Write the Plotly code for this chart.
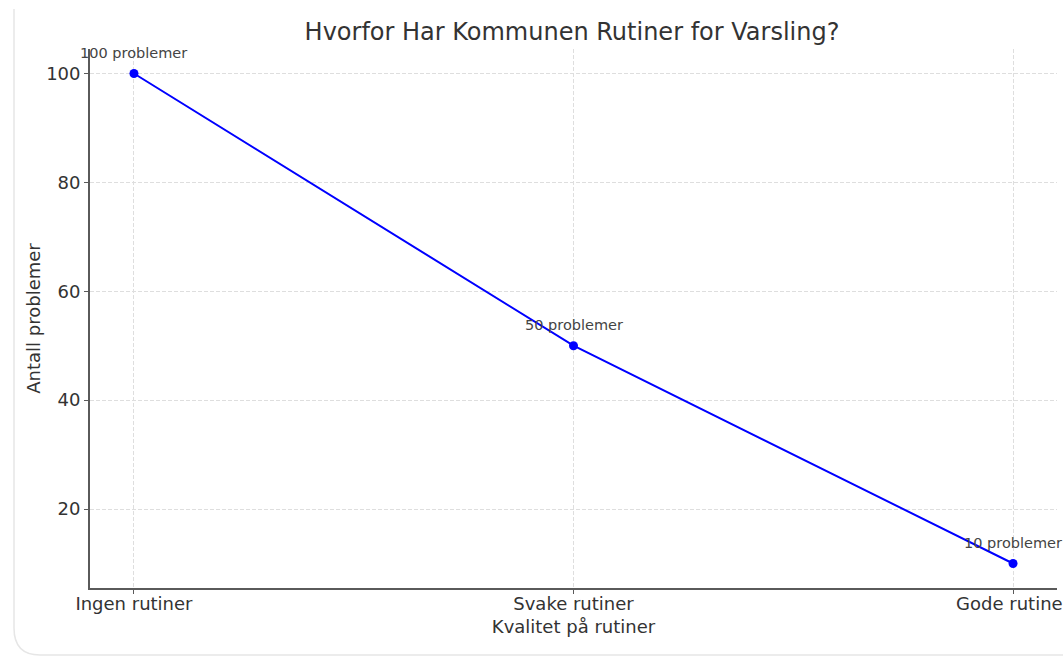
import plotly.graph_objects as go

categories = ["Ingen rutiner", "Svake rutiner", "Gode rutiner"]
problems = [100, 50, 10]
label_suffix = " problemer"
y_ticks = [20, 40, 60, 80, 100]

W, H = 1063, 656
L, R, T, B = 90, 6, 49, 68
pw, ph = W - L - R, H - T - B

def px(x):
    return (x - L) / pw

def py(y):
    return (H - B - y) / ph

fig = go.Figure()
fig.add_trace(go.Scatter(
    x=categories, y=problems, mode="lines+markers",
    line=dict(color="#0000ff", width=2),
    marker=dict(color="#0000ff", size=9),
    cliponaxis=False, showlegend=False,
))

for c, v in zip(categories, problems):
    fig.add_annotation(x=c, y=v, text=f"{v}{label_suffix}", showarrow=False,
                       yshift=21, font=dict(size=14.5, color="#444444"))

grid = dict(showgrid=True, gridcolor="#dedede", griddash="4px,2px", gridwidth=1)
fig.update_xaxes(type="category", range=[-0.1, 2.1], showline=True, linecolor="#5a5a5a",
                 linewidth=1.8, ticks="outside", ticklen=4, tickcolor="#5a5a5a",
                 tickfont=dict(size=18, color="#333333"), automargin=False,
                 ticklabelstandoff=-6,
                 title=dict(text="Kvalitet på rutiner", font=dict(size=18, color="#333333"), standoff=8),
                 zeroline=False, **grid)
fig.update_yaxes(range=[5.5, 104.5], tickvals=y_ticks, showline=True, linecolor="#5a5a5a",
                 linewidth=1.8, ticks="outside", ticklen=4, tickcolor="#5a5a5a",
                 tickfont=dict(size=18, color="#333333"), automargin=False,
                 title=dict(text="Antall problemer", font=dict(size=18, color="#333333"), standoff=1),
                 zeroline=False, **grid)

path = (f"M {px(14)},{py(9)} L {px(14)},{py(628)} "
        f"Q {px(14)},{py(655)} {px(40)},{py(655)} L {px(1063)},{py(655)}")
fig.add_shape(type="path", xref="paper", yref="paper", path=path,
              line=dict(color="#e6e6e6", width=1.5), layer="below")

fig.update_layout(
    width=W, height=H,
    margin=dict(l=L, r=R, t=T, b=B),
    paper_bgcolor="white", plot_bgcolor="white",
    font=dict(family="DejaVu Sans", color="#333333"),
    title=dict(text="Hvorfor Har Kommunen Rutiner for Varsling?", x=572 / W, xanchor="center",
               y=1 - 32 / H, yanchor="middle", font=dict(size=24, color="#333333")),
)

fig.write_html("out.html", config={"displayModeBar": False},
               post_script="document.body.style.margin='0';document.body.style.overflow='hidden';")
